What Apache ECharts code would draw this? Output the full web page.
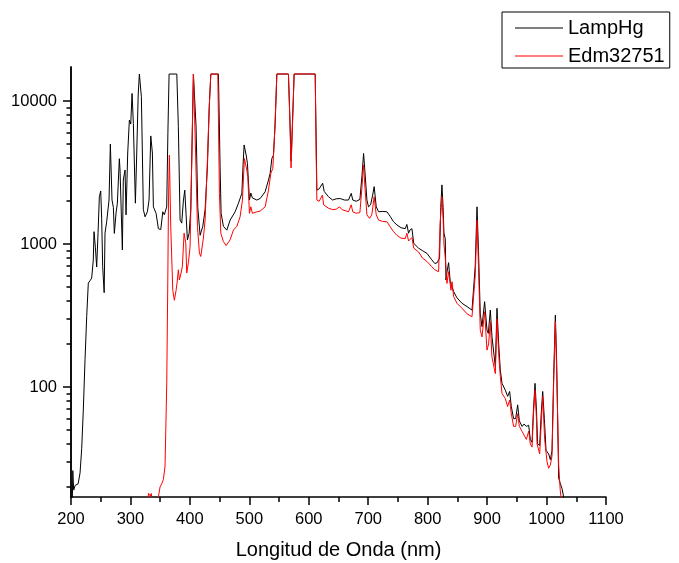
<!DOCTYPE html>
<html>
<head>
<meta charset="utf-8">
<script src="https://cdn.jsdelivr.net/npm/echarts@6/dist/echarts.min.js"></script>
<style>html,body{margin:0;padding:0;background:#fff}#c{width:679px;height:563px}</style>
</head>
<body>
<div id="c"></div>
<script>
// Series names
const seriesNames = ['LampHg', 'Edm32751'];
// Axis tick values
const xTicks = [200, 300, 400, 500, 600, 700, 800, 900, 1000, 1100];
const yMajorTicks = [100, 1000, 10000];
const yMinorTicks = [20, 30, 40, 50, 60, 70, 80, 90, 200, 300, 400, 500, 600, 700, 800, 900, 2000, 3000, 4000, 5000, 6000, 7000, 8000, 9000];

// LampHg: [wavelength nm, counts]
const lampHg = [
[201.5,10],[203,26],[204.5,19],[207,20.5],[209.5,21],[212,21],[215.2,25],[218,37],[220.7,69],[223.6,155],[226.4,310],[229.1,533],[232,553],[234.8,578],[237.5,773],[238.7,1220],[241,950],[243.2,690],[245.5,1200],[247.7,2144],[250,2350],[251.6,1500],[253.3,694],[255.8,457],[257.2,1190],[260,1430],[262.8,1450],[264,2030],[266.2,5000],[269,2030],[271.3,1800],[272.9,1186],[275.8,1650],[278,1930],[281.3,3950],[282.5,3290],[286.4,908],[288,2800],[290.9,3290],[292.6,1600],[295.4,4330],[298.2,7360],[300.5,6900],[302.7,11300],[304.9,6980],[308.3,1930],[310.6,4330],[313,11000],[315,15450],[318.4,10700],[321.7,1740],[324.6,1550],[328.5,1680],[331.3,2030],[334.2,5700],[336.9,4330],[338.6,1820],[343.1,1640],[347,1280],[351,1260],[354.4,1680],[357,1600],[361,1820],[363,6000],[365,15450],[378,15450],[380.6,6620],[383.5,1470],[386.3,1400],[389,2000],[391.4,2380],[393.6,1600],[395.8,1066],[398.7,1190],[401.5,1740],[404.2,6620],[405.9,15450],[408.8,15450],[410.4,6620],[413.3,1800],[417.2,1150],[421.7,1330],[425.6,1740],[429.5,3500],[432.5,9000],[435.2,15450],[448,15450],[450.8,3500],[452.5,1640],[456.4,1330],[462.1,1250],[467.7,1470],[476.1,1680],[481.7,1930],[487.4,2260],[489.5,3600],[491.2,4930],[494.6,4200],[496.8,3670],[500.2,2030],[502.5,2270],[505.2,2100],[508.1,2150],[512.6,2030],[518.2,2080],[526.6,2320],[532.2,2800],[535,3120],[537.9,3970],[540.6,4180],[543.5,7000],[546.3,15450],[565.8,15450],[568.5,7000],[570.2,3800],[572.5,7000],[575.4,15450],[610.8,15450],[612.5,5000],[613.6,2380],[617.5,2430],[620.5,2450],[623.3,2660],[626,2330],[633.2,2140],[640,2030],[646,2070],[652.8,2080],[660,2030],[666.8,2030],[671.4,2260],[674,2030],[679.8,1990],[686,2050],[689.5,3000],[692.2,4300],[694.5,3200],[697.8,2030],[700.5,1820],[704,1880],[707.5,2200],[710,2520],[713.5,1820],[717.4,1680],[724,1690],[731.5,1680],[737,1560],[742.6,1430],[748.3,1360],[755,1300],[762.3,1280],[765,1370],[767.9,1190],[770,1250],[773.5,1280],[776.6,1010],[784.7,935],[791,900],[798.8,860],[807,775],[812,730],[816,740],[820,800],[822,1800],[824,2590],[826,1800],[827.4,1190],[829.6,1090],[830.8,560],[832,620],[835.2,740],[838,545],[841,560],[843.6,465],[849.3,420],[857.7,385],[866.2,365],[874.6,345],[877.3,336],[880,700],[883,1820],[885.5,900],[888.5,324],[891.4,264],[895.8,395],[899.8,250],[902,237],[905.4,345],[908.2,224],[913.8,139],[916.6,355],[919.5,200],[922.2,131],[925.1,106],[930.6,95],[934.5,86],[937.9,93],[940.7,73],[944.6,60],[948,60],[951.4,75],[954.2,58],[958.7,53],[962,55],[966,53],[969.9,54],[972.7,43],[975.6,41],[978,70],[980.6,106],[983,70],[985,40],[988.4,39],[991,65],[993.5,93],[996.3,60],[999.1,36],[1003.5,34],[1006.4,31],[1009.2,36],[1012,120],[1014.8,318],[1017,150],[1020.4,23],[1023.3,21],[1026,19.5],[1028.8,20],[1030,16],[1032,14]
];

// Edm32751: [wavelength nm, counts]
const edm32751 = [
[300,12],[326,14],[329,16],[330.5,18],[331.5,17.5],[332.5,18.5],[333.5,17.3],[335,18],[336.5,16],[340,14],[345,15],[347,17],[349.8,20],[352.5,21],[355.4,22.5],[358.2,28],[361.1,107],[362.8,533],[364,2000],[365.5,4180],[367.8,1330],[371.2,475],[373.9,404],[376.8,475],[379,560],[380.6,660],[382.3,560],[385.2,627],[387.4,700],[390.2,1190],[393.1,1010],[394.7,627],[397.5,740],[400.3,955],[403.2,3870],[405.9,15450],[408.8,15450],[409.9,3870],[412.7,1330],[416,867],[418.3,818],[422.7,1100],[425.6,1470],[429.5,3870],[432.5,9000],[435.2,15450],[447,15450],[449.7,2260],[452,1190],[456.4,1040],[461,975],[467.7,1070],[473.2,1250],[479,1330],[484.5,1550],[488.4,2030],[491.7,3970],[495.7,3290],[497.4,2960],[500.2,1640],[502.5,1820],[505.2,1640],[512.6,1680],[518.2,1700],[526.6,1820],[532.2,2380],[536.2,3120],[539.5,3380],[542.6,6000],[546.3,15450],[565.8,15450],[568.5,6500],[570.2,3400],[572.5,6500],[575.4,15450],[610.8,15450],[612.5,4000],[613.6,2030],[617.5,1990],[620.5,2050],[623,2200],[625,1880],[633.2,1780],[640,1740],[646,1750],[651.7,1820],[656,1740],[666.8,1680],[671.4,1880],[674,1680],[679.8,1640],[686,1660],[689.5,2500],[692.1,3570],[694.5,2500],[697.8,1600],[702.2,1510],[706,1600],[710,2140],[713.5,1600],[717.4,1470],[724,1440],[731.5,1430],[737,1320],[742.6,1220],[748.3,1150],[755,1100],[762.3,1090],[765,1190],[767.9,1050],[770,1066],[773.5,1110],[776.6,935],[784.7,880],[791,800],[798.8,755],[807,694],[812,660],[818.4,640],[821,1400],[824,2140],[826,1500],[827.4,1000],[829.6,800],[832.4,530],[835.2,640],[839.2,475],[841,545],[843.6,430],[849.3,385],[857.7,355],[866.2,325],[874.6,310],[877.3,305],[880,600],[883,1470],[885.5,700],[888.5,250],[891.4,224],[895.8,336],[899.8,181],[902.5,200],[905.4,286],[908,163],[913.8,124],[916.6,300],[919.5,170],[922.2,118],[925.1,90],[930.6,83],[934.5,73],[937.9,81],[940.7,65],[944.6,53],[948,53],[951.4,65],[954.2,53],[958.7,49],[962,50],[966,43],[969.9,49],[972.7,40],[975.6,38],[978,65],[980.6,95],[983,60],[984,40],[988.4,34],[991,55],[993.5,86],[996.8,43],[1000.8,30],[1003.5,27],[1006.4,28.5],[1009.2,33],[1012,110],[1014.8,286],[1017,130],[1020.4,28.5],[1023,19],[1025,16],[1028,14]
];

const FONT = "'Liberation Sans', Arial, sans-serif";
const chart = echarts.init(document.getElementById('c'), null, {renderer: 'canvas'});
const yBase = {
  type: 'log', logBase: 10, min: 17, max: 17300, position: 'left', offset: 0,
  splitLine: {show: false}, minorTick: {show: false}, minorSplitLine: {show: false},
  axisLine: {show: true, lineStyle: {color: '#000', width: 1.5}}
};
chart.setOption({
  animation: false,
  backgroundColor: '#fff',
  textStyle: {fontFamily: FONT},
  grid: {left: 71, right: 73, top: 67, bottom: 66, outerBoundsMode: 'none', containLabel: false},
  legend: {
    data: seriesNames,
    orient: 'vertical', left: 502, top: 12,
    icon: 'rect',
    padding: [6, 5, 2, 13], itemGap: 8, itemWidth: 48, itemHeight: 1,
    borderColor: '#000', borderWidth: 1, backgroundColor: '#fff',
    textStyle: {fontSize: 20, lineHeight: 20, color: '#000', fontFamily: FONT}
  },
  xAxis: {
    type: 'value', min: 200, max: 1100, interval: 100,
    name: 'Longitud de Onda (nm)', nameLocation: 'middle', nameGap: 43,
    nameTextStyle: {fontSize: 20, color: '#000', fontFamily: FONT},
    axisLine: {show: true, onZero: false, lineStyle: {color: '#000', width: 1.5}},
    axisTick: {show: true, inside: false, length: 8, lineStyle: {color: '#000', width: 1.5}},
    minorTick: {show: true, splitNumber: 2, length: 5, lineStyle: {color: '#000', width: 1.5}},
    axisLabel: {fontSize: 16.5, color: '#000', margin: 14, fontFamily: FONT, customValues: xTicks,
      formatter: v => String(v)},
    splitLine: {show: false}
  },
  yAxis: [
    Object.assign({}, yBase, {
      axisTick: {show: true, inside: false, length: 8, customValues: yMajorTicks, lineStyle: {color: '#000', width: 1.5}},
      axisLabel: {show: true, fontSize: 16.5, color: '#000', margin: 14, fontFamily: FONT, customValues: yMajorTicks,
        formatter: v => String(Math.round(v))}
    }),
    Object.assign({}, yBase, {
      axisTick: {show: true, inside: false, length: 4.5, customValues: yMinorTicks, lineStyle: {color: '#000', width: 1.5}},
      axisLabel: {show: false}
    })
  ],
  series: [
    {name: seriesNames[0], type: 'line', data: lampHg, yAxisIndex: 0, symbol: 'none', showSymbol: false,
      lineStyle: {color: '#000', width: 1}, itemStyle: {color: '#000'}, clip: true, z: 2},
    {name: seriesNames[1], type: 'line', data: edm32751, yAxisIndex: 0, symbol: 'none', showSymbol: false,
      lineStyle: {color: '#ff0000', width: 1}, itemStyle: {color: '#ff0000'}, clip: true, z: 3}
  ]
});
</script>
</body>
</html>
